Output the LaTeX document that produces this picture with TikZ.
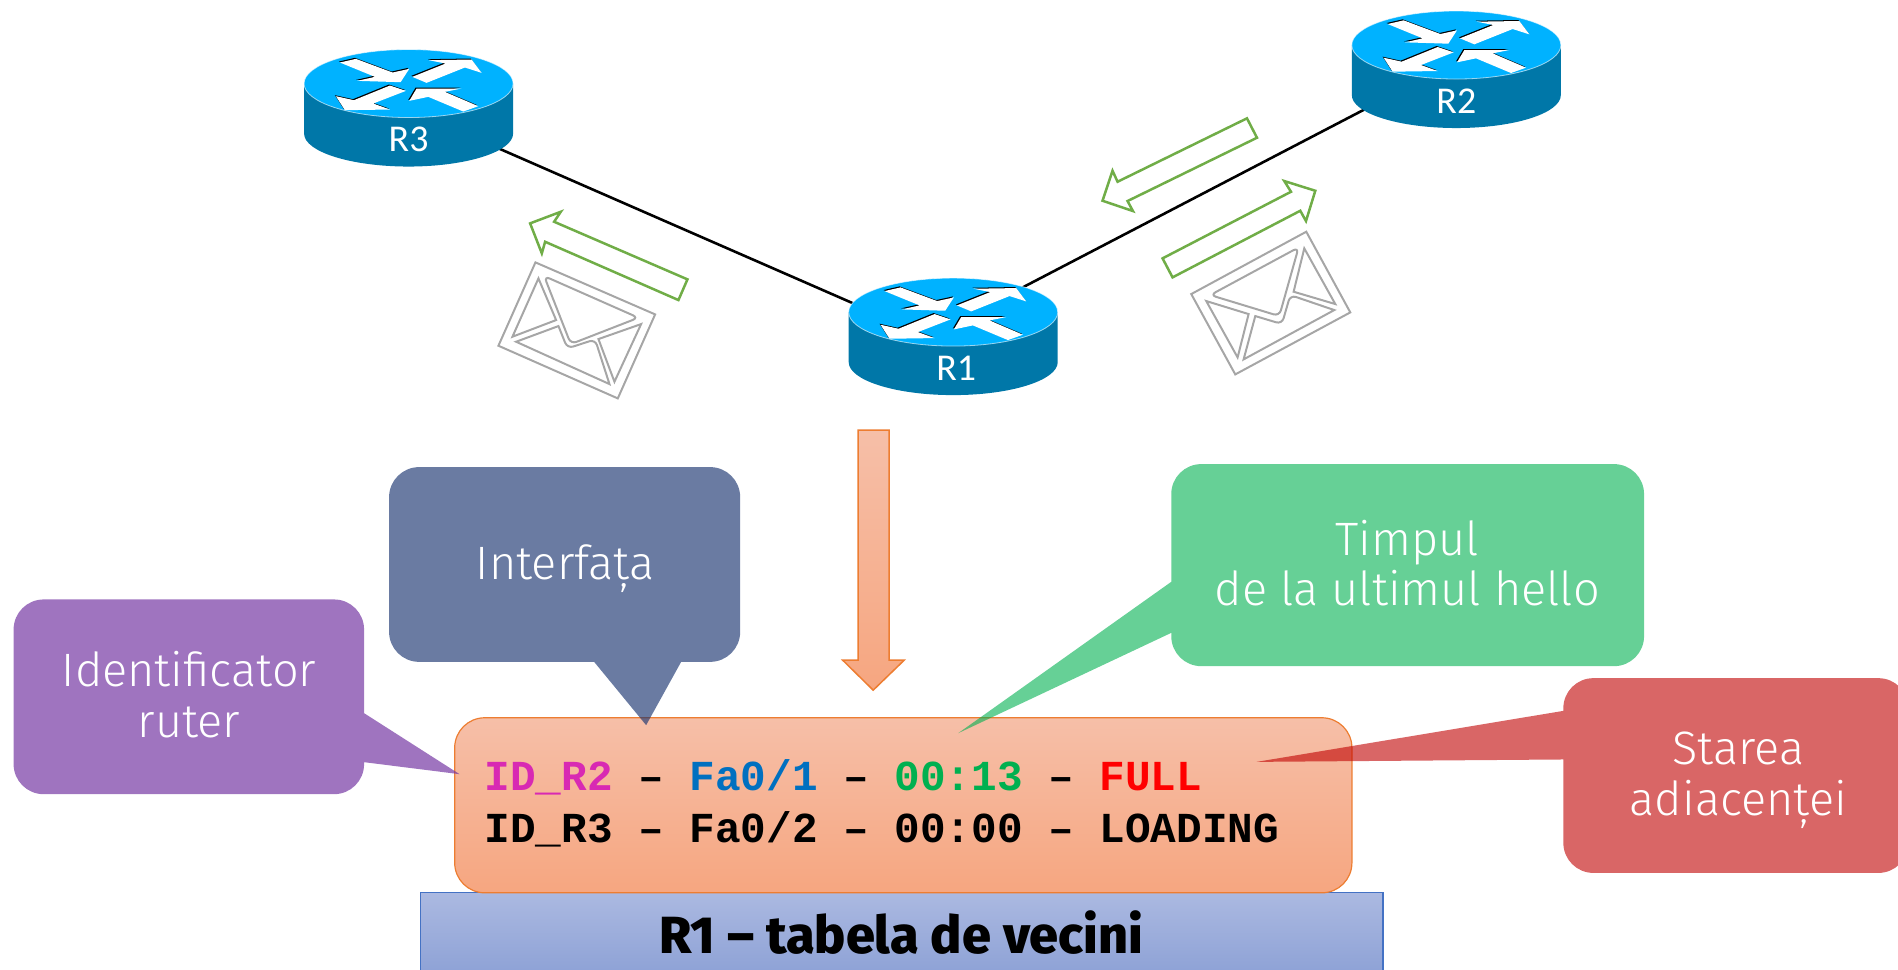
\documentclass[tikz,border=0pt]{standalone}
\usepackage{fontspec}
\usetikzlibrary{calc}
\newfontfamily\lightf{Fira Sans Light}
\newfontfamily\heavyf{Fira Sans ExtraBold}
\newfontfamily\labelf{Carlito}
\newfontfamily\monof{Liberation Mono}
\definecolor{routertop}{HTML}{00B2FF}
\definecolor{routerside}{HTML}{0077A8}
\definecolor{hellogreen}{HTML}{70AD47}
\definecolor{envgray}{HTML}{A6A6A6}
\definecolor{boxline}{HTML}{ED7D31}
\definecolor{boxtop}{HTML}{F6BFA8}
\definecolor{boxbot}{HTML}{F6A680}
\definecolor{bartop}{HTML}{ABB9E1}
\definecolor{barbot}{HTML}{8EA2D6}
\definecolor{barline}{HTML}{4472C4}
\definecolor{cpurple}{HTML}{7030A0}
\definecolor{cslate}{HTML}{1A3470}
\definecolor{cgreen}{HTML}{00B050}
\definecolor{cred}{HTML}{C00000}
\definecolor{magen}{HTML}{D829B3}
\definecolor{ifblue}{HTML}{0070C0}
\tikzset{
  link/.style={draw=black,line width=1.3pt},
  greenarrow/.style={draw=hellogreen,line width=1.25pt,fill=white,line join=miter},
  envelope/.style={draw=envgray,line width=1pt,line join=miter},
  calltext/.style={text=white,align=center,font=\lightf\fontsize{23.5}{27}\selectfont,inner sep=0pt},
  routerlabel/.style={text=white,font=\labelf\fontsize{19}{21}\selectfont,inner sep=0pt,anchor=center},
}
% #1 name #2 cx #3 cy(top ellipse centre) #4 label #5 label dx
\newcommand\routerat[5]{%
  \begin{scope}[shift={(#2,#3)}]
    \fill[routerside] (-104.5,0) -- (-104.5,50) arc[start angle=180,end angle=0,x radius=104.5,y radius=33] -- (104.5,0) -- cycle;
    \fill[routertop,draw=white,draw opacity=.6,line width=.4pt] (0,0) ellipse[x radius=104.5,y radius=34];
    \begin{scope}[x=0.16667bp,y=-0.16667bp,shift={(-386,-190)}]
      \foreach \dx/\col in {-3/black,0/white}{
      \begin{scope}[shift={(\dx,\dx)}]
      \fill[\col] (180,127) -- (228,116) -- (338,157) -- (388,146) -- (362,186) -- (232,182) -- (285,170) -- cycle;
      \fill[\col] (397,170) -- (497,130) -- (447,120) -- (575,118) -- (605,158) -- (555,142) -- (440,188) -- cycle;
      \fill[\col] (168,228) -- (222,240) -- (330,196) -- (378,212) -- (280,250) -- (330,268) -- (195,270) -- cycle;
      \fill[\col] (388,242) -- (410,205) -- (545,205) -- (495,215) -- (595,258) -- (550,274) -- (445,230) -- cycle;
      \end{scope}}
    \end{scope}
    \node[routerlabel] (#1) at (#5,56) {#4};
  \end{scope}}
% #1 colour options, #2 x0, #3 y0, #4 x1, #5 y1, #6 right tail, #7 bottom tail, #8 left tail
\newcommand\bubble[8]{%
  \fill[#1] (#2,#3+30) arc[start angle=180,end angle=270,radius=30] -- (#4-30,#3)
    arc[start angle=270,end angle=360,radius=30] #6 -- (#4,#5-30)
    arc[start angle=0,end angle=90,radius=30] #7 -- (#2+30,#5)
    arc[start angle=90,end angle=180,radius=30] #8 -- cycle;}
\begin{document}
\begin{tikzpicture}[x=0.5bp,y=-0.5bp]
\useasboundingbox (0,0) rectangle (1897.6,969.4);
\clip (0,0) rectangle (1898,970);
% anchors of the links
\coordinate (R3c) at (408.5,109);
\coordinate (R1l) at (953,347);
\coordinate (R1r) at (953,323.5);
\coordinate (R2c) at (1456,61.6);
\draw[link] (R3c) -- (R1l);
\draw[link] (R1r) -- (R2c);
\routerat{R3}{408.5}{83.5}{R3}{0}
\routerat{R1}{953}{312}{R1}{3}
\routerat{R2}{1456}{45}{R2}{0}
% hello arrows
\draw[greenarrow] (530,223.3) -- (560.7,211.7) -- (554,221.7) -- (687.3,279.3) -- (678.3,300) -- (545,241.7) -- (541.7,253.3) -- cycle;
\draw[greenarrow] (1102.3,200.7) -- (1112.3,170.7) -- (1117.3,181.7) -- (1246.7,118.3) -- (1256.7,137.7) -- (1127.3,201) -- (1132.7,211) -- cycle;
\draw[greenarrow] (1315,190.7) -- (1284,181) -- (1290.7,191.7) -- (1162.3,258.3) -- (1172.3,277.3) -- (1300,210.7) -- (1305.7,221) -- cycle;
% envelopes
\begin{scope}[shift={(280,20)},x=0.16667bp,y=-0.16667bp]
  \draw[envelope] (766,727) -- (1125,883) -- (1013,1135) -- (655,977) -- cycle;
  \draw[envelope,rounded corners=3pt] (792,768) -- (1075,893) -- (872,972) -- cycle;
  \draw[envelope] (775,775) -- (697,950) -- (828,900) -- cycle;
  \draw[envelope] (708,965) -- (835,918) [rounded corners=3pt] -- (862,985) -- (945,958) [sharp corners] -- (988,1092) -- cycle;
  \draw[envelope] (955,957) -- (1083,912) -- (1003,1085) -- cycle;
\end{scope}
\begin{scope}[shift={(1080,0)},x=0.16667bp,y=-0.16667bp]
  \draw[envelope] (333,882) -- (678,695) -- (810,937) -- (465,1123) -- cycle;
  \draw[envelope,rounded corners=3pt] (390,885) -- (655,742) -- (597,948) -- cycle;
  \draw[envelope] (378,903) -- (505,942) -- (472,1072) -- cycle;
  \draw[envelope] (525,948) [rounded corners=3pt] -- (605,972) -- (630,885) [sharp corners] -- (762,930) -- (490,1078) -- cycle;
  \draw[envelope] (640,875) -- (672,745) -- (765,912) -- cycle;
\end{scope}
% central arrow
\path[draw=boxline,line width=.75pt,top color=boxtop,bottom color=boxbot] (858,430) -- (889,430) -- (889,660) -- (904,660) -- (873,690) -- (842.5,660) -- (858,660) -- cycle;
% table
\node[draw=barline,line width=.6pt,top color=bartop,bottom color=barbot,minimum width=481bp,minimum height=40bp,anchor=north west,inner sep=0pt] (bar) at (420,892) {};
\node[draw=boxline,line width=.6pt,top color=boxtop,bottom color=boxbot,rounded corners=15bp,minimum width=448.5bp,minimum height=87.5bp,anchor=north west,inner sep=0pt] (table) at (454,717) {};
\node[inner sep=0pt,font=\heavyf\fontsize{26.2}{28}\selectfont,text=black,anchor=base] (title) at (901,953) {R1 – tabela de vecini};
% callouts
\bubble{cpurple,opacity=.67}{13.6}{599.3}{364}{794}{-- (364,713) -- (459.5,774) -- (364,762)}{}{}
\bubble{cslate,opacity=.65}{389}{467}{740}{661.7}{}{-- (681,661.7) -- (646,725) -- (594,661.7)}{}
\bubble{cgreen,opacity=.6}{1171}{464}{1643.7}{666}{}{}{-- (1171,632.7) -- (958,733) -- (1171,581.7)}
\bubble{cred,opacity=.6}{1563}{678}{1908}{872.7}{}{}{-- (1563,759.3) -- (1256.4,761.7) -- (1563,710.7)}
\node[calltext,anchor=base] (cid1) at (189,686) {Identificator};
\node[calltext,anchor=base] (cid2) at (189,737) {ruter};
\node[calltext,anchor=base] (cif) at (565,579) {Interfața};
\node[calltext,anchor=base] (ctm1) at (1407,555) {Timpul};
\node[calltext,anchor=base] (ctm2) at (1407,605) {de la ultimul hello};
\node[calltext,anchor=base] (cst1) at (1738,764) {Starea};
\node[calltext,anchor=base] (cst2) at (1738,815) {adiacenței};
% table text
\tikzset{rowtext/.style={inner sep=0pt,anchor=base west,font=\monof\bfseries\fontsize{21.43}{24}\selectfont,text=black}}
\node[rowtext] (row1) at (484,790.7) {\textcolor{magen}{ID\_R2} – \textcolor{ifblue}{Fa0/1} – \textcolor{cgreen}{00:13} – \textcolor{red}{FULL}};
\node[rowtext] (row2) at (484,842.7) {ID\_R3 – Fa0/2 – 00:00 – LOADING};
\end{tikzpicture}
\end{document}
